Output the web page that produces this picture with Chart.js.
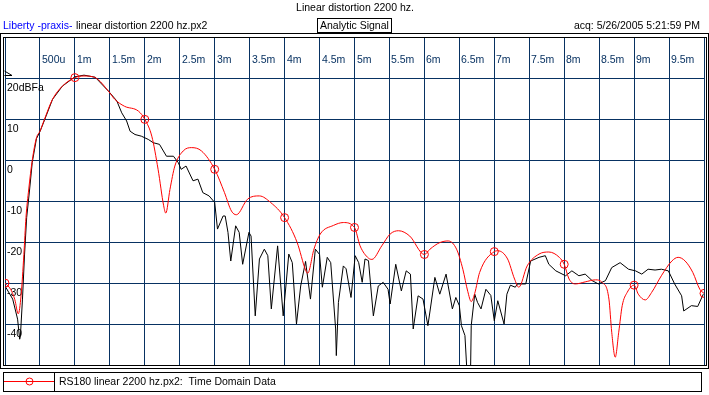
<!DOCTYPE html>
<html>
<head>
<meta charset="utf-8">
<script src="https://cdn.jsdelivr.net/npm/chart.js@4.4.1/dist/chart.umd.min.js"></script>
<style>
  body { margin: 0; background: #fff; }
  canvas { display: block; }
</style>
</head>
<body>
<canvas id="td-chart" width="709" height="395"></canvas>
<script>
// time in ms, level in dB
const redMs = [0, 0.08, 0.14, 0.19, 0.23, 0.27, 0.3, 0.34, 0.39, 0.45, 0.5,
  0.56, 0.68, 0.82, 1, 1.13, 1.29, 1.48, 1.57, 1.71, 1.91,
  2, 2.1, 2.19, 2.27, 2.3, 2.36, 2.43, 2.55, 2.67, 2.81,
  3, 3.14, 3.24, 3.31, 3.47, 3.64, 3.8, 4, 4.18, 4.3,
  4.33, 4.42, 4.51, 4.7, 4.84, 5, 5.08, 5.2, 5.25, 5.39,
  5.51, 5.63, 5.79, 6, 6.08, 6.22, 6.34, 6.46, 6.55, 6.62,
  6.67, 6.72, 6.79, 7, 7.05, 7.19, 7.29, 7.35, 7.47, 7.64,
  7.78, 7.93, 8, 8.07, 8.16, 8.3, 8.45, 8.54, 8.64, 8.68,
  8.73, 8.78, 8.83, 8.9, 9, 9.06, 9.16, 9.25, 9.39, 9.54,
  9.63, 9.73, 9.84, 9.94, 10];
const redDb = [-30, -31.5, -34, -37.5, -33, -23, -14, -7, 0, 5.5, 7.1,
  9.8, 14.9, 18.1, 20.2, 20.6, 20.2, 16.9, 14.9, 13.2, 12,
  10, 5.9, -2.2, -11.1, -12.9, -7.1, -1.4, 2.3, 3.1, 2.3,
  -2.2, -7.9, -12.4, -13.3, -9.5, -8.7, -10.3, -14, -20.1, -26.8,
  -27.6, -21.7, -18, -15.9, -15.2, -16.4, -20.9, -23.9, -24.2, -20.9,
  -18, -17.2, -18.5, -23, -21.7, -20.1, -19.7, -21.7, -26.6, -32,
  -34.5, -32.5, -27.4, -22.3, -22.1, -24.1, -29, -31, -25.8, -22.9,
  -22.4, -23.7, -25.4, -29, -30.2, -29.7, -29.2, -29.8, -33.9, -42,
  -48.1, -42, -35.5, -32.3, -30.5, -32.7, -34.1, -32.3, -28.2, -24.6,
  -23.7, -24.6, -27.4, -31.5, -32.5];

const blackMs = [0, 0.11, 0.18, 0.21, 0.22, 0.25, 0.28, 0.31, 0.35, 0.39, 0.45, 0.5,
  0.56, 0.68, 0.82, 1, 1.13, 1.29, 1.48, 1.6, 1.67, 1.74,
  1.79, 1.86, 1.95, 2.05, 2.12, 2.21, 2.31, 2.41, 2.48, 2.52,
  2.59, 2.69, 2.76, 2.83, 2.92, 3, 3.04, 3.12, 3.15, 3.19,
  3.23, 3.3, 3.35, 3.4, 3.49, 3.52, 3.58, 3.64, 3.71, 3.76,
  3.81, 3.9, 3.98, 4.06, 4.11, 4.17, 4.23, 4.3, 4.37, 4.44,
  4.5, 4.54, 4.61, 4.66, 4.73, 4.74, 4.77, 4.84, 4.88, 4.95,
  5.01, 5.06, 5.11, 5.15, 5.2, 5.27, 5.34, 5.41, 5.48, 5.51,
  5.59, 5.67, 5.74, 5.8, 5.84, 5.91, 5.98, 6.05, 6.15, 6.22,
  6.31, 6.4, 6.45, 6.5, 6.53, 6.58, 6.61, 6.66, 6.67, 6.72,
  6.76, 6.81, 6.88, 6.95, 7, 7.05, 7.14, 7.18, 7.23, 7.3,
  7.33, 7.45, 7.52, 7.64, 7.73, 7.78, 7.88, 8.02, 8.11, 8.21,
  8.3, 8.4, 8.49, 8.59, 8.68, 8.8, 8.92, 9.02, 9.11, 9.2,
  9.3, 9.39, 9.49, 9.58, 9.68, 9.71, 9.82, 9.91, 9.99];
const blackDb = [-30.7, -33.9, -38.8, -43.7, -43, -33.9, -22.9, -14, -7.5, -0.5, 5.3, 7,
  9.6, 14.9, 18.1, 20.4, 20.8, 20.3, 16.9, 14.5, 11.6, 9.6,
  7.1, 6.3, 5.9, 5.1, 4.3, 3.9, 1, 1, -0.6, -2.2,
  -1.4, -5, -4.6, -7.9, -8.7, -10.3, -16.8, -13.6, -13.6, -17.6,
  -24.6, -16, -17.6, -25.4, -17.6, -18.5, -38, -24.1, -21.7, -23.3,
  -36.3, -20.9, -38, -22.9, -25, -40, -30.7, -24.7, -33.9, -21.7,
  -23, -31, -23.7, -25, -41.2, -47.7, -34.7, -25.8, -26.5, -33.5,
  -23.3, -25, -29.8, -24.1, -24.5, -38, -30.7, -29.8, -31.5, -35.1,
  -25.4, -31.9, -27, -27.8, -41.2, -33.1, -33.9, -40.4, -28.6, -32.7,
  -27.8, -36.3, -33.5, -35.5, -40.4, -42.8, -52, -52, -40.4, -32.7,
  -34.7, -36.3, -31.5, -33, -39.2, -34.3, -40, -32.7, -30.5, -31,
  -30.2, -30.2, -24.6, -23.7, -23.3, -25.4, -27, -28.2, -27, -28.2,
  -27.8, -29.4, -30.2, -29.4, -26.2, -25, -26.6, -27, -27.8, -26.6,
  -26.8, -26.6, -27, -30.2, -33.1, -36.8, -35.5, -35.7, -32.7];

const xTickMs = [0.5, 1, 1.5, 2, 2.5, 3, 3.5, 4, 4.5, 5, 5.5, 6, 6.5, 7, 7.5, 8, 8.5, 9, 9.5];
const xTickLabels = ['500u', '1m', '1.5m', '2m', '2.5m', '3m', '3.5m', '4m', '4.5m', '5m',
  '5.5m', '6m', '6.5m', '7m', '7.5m', '8m', '8.5m', '9m', '9.5m'];
const yTickDb = [20, 10, 0, -10, -20, -30, -40];
const yTickLabels = ['20dBFa', '10', '0', '-10', '-20', '-30', '-40'];

const FONT = '10.5px "Liberation Sans", Arial, sans-serif';
const NAVY = '#083262';

function toPoints(xs, ys) {
  return xs.map((x, i) => ({ x: x, y: ys[i] }));
}

const decor = {
  id: 'decor',
  beforeDatasetsDraw(chart) {
    const ctx = chart.ctx, sx = chart.scales.x, sy = chart.scales.y;
    ctx.save();
    ctx.font = FONT;
    ctx.textBaseline = 'middle';
    ctx.fillStyle = NAVY;
    xTickMs.forEach((v, i) => {
      ctx.fillText(xTickLabels[i], Math.round(sx.getPixelForValue(v)) + 2, 60);
    });
    ctx.fillStyle = '#000';
    yTickDb.forEach((v, i) => {
      ctx.fillText(yTickLabels[i], 7, Math.round(sy.getPixelForValue(v)) + 10);
    });
    // small flag in the corner
    ctx.strokeStyle = '#000';
    ctx.lineWidth = 1;
    ctx.beginPath();
    ctx.moveTo(4.5, 71);
    ctx.lineTo(12, 75.5);
    ctx.lineTo(4.5, 75.5);
    ctx.stroke();
    ctx.restore();
  },
  afterDraw(chart) {
    const ctx = chart.ctx;
    ctx.save();
    ctx.strokeStyle = '#000';
    ctx.lineWidth = 1;
    // frames
    ctx.strokeRect(0.5, 33.5, 708, 335);
    ctx.strokeRect(3.5, 37.5, 703, 328);

    ctx.font = FONT;
    ctx.textBaseline = 'middle';
    ctx.fillStyle = '#000';
    ctx.textAlign = 'center';
    ctx.fillText('Linear distortion 2200 hz.', 355, 8);
    ctx.textAlign = 'left';
    ctx.fillStyle = '#0000ff';
    ctx.fillText('Liberty -praxis-', 3, 26);
    ctx.fillStyle = '#000';
    ctx.fillText('linear distortion 2200 hz.px2', 76, 26);
    ctx.strokeRect(317.5, 18.5, 74, 14);
    ctx.fillText('Analytic Signal', 320, 26);
    ctx.textAlign = 'right';
    ctx.fillText('acq: 5/26/2005 5:21:59 PM', 700, 26);

    // legend
    ctx.textAlign = 'left';
    ctx.strokeRect(3.5, 372.5, 698, 19);
    ctx.beginPath();
    ctx.moveTo(54.5, 372.5);
    ctx.lineTo(54.5, 391.5);
    ctx.stroke();
    ctx.strokeStyle = '#ff0000';
    ctx.beginPath();
    ctx.moveTo(4, 381.5);
    ctx.lineTo(54, 381.5);
    ctx.stroke();
    ctx.beginPath();
    ctx.arc(29.5, 381.5, 3.5, 0, Math.PI * 2);
    ctx.stroke();
    ctx.fillText('RS180 linear 2200 hz.px2:  Time Domain Data', 59, 382);
    ctx.restore();
  }
};

new Chart(document.getElementById('td-chart'), {
  type: 'line',
  data: {
    datasets: [{
      label: 'RS180 linear 2200 hz.px2',
      data: toPoints(redMs, redDb),
      borderColor: '#ff0000',
      borderWidth: 1,
      cubicInterpolationMode: 'monotone',
      pointRadius: ctx => Number.isInteger(redMs[ctx.dataIndex]) ? 4 : 0,
      pointBorderColor: '#ff0000',
      pointBackgroundColor: 'rgba(0,0,0,0)',
      pointBorderWidth: 1
    }, {
      label: 'black',
      data: toPoints(blackMs, blackDb),
      borderColor: '#000000',
      borderWidth: 1,
      tension: 0,
      pointRadius: 0
    }]
  },
  options: {
    responsive: false,
    animation: false,
    devicePixelRatio: 1,
    events: [],
    layout: { padding: { left: 2, top: 37.5, right: 3, bottom: 30 } },
    plugins: { legend: { display: false }, tooltip: { enabled: false } },
    scales: {
      x: {
        type: 'linear', min: 0, max: 10,
        ticks: { display: false, stepSize: 0.5 },
        grid: { color: NAVY, lineWidth: 1, drawTicks: false },
        border: { display: false },
        afterFit: s => { s.height = 0; }
      },
      y: {
        min: -50, max: 30,
        ticks: { display: false, stepSize: 10 },
        grid: { color: NAVY, lineWidth: 1, drawTicks: false },
        border: { display: false },
        afterFit: s => { s.width = 0; }
      }
    }
  },
  plugins: [decor]
});
</script>
</body>
</html>
